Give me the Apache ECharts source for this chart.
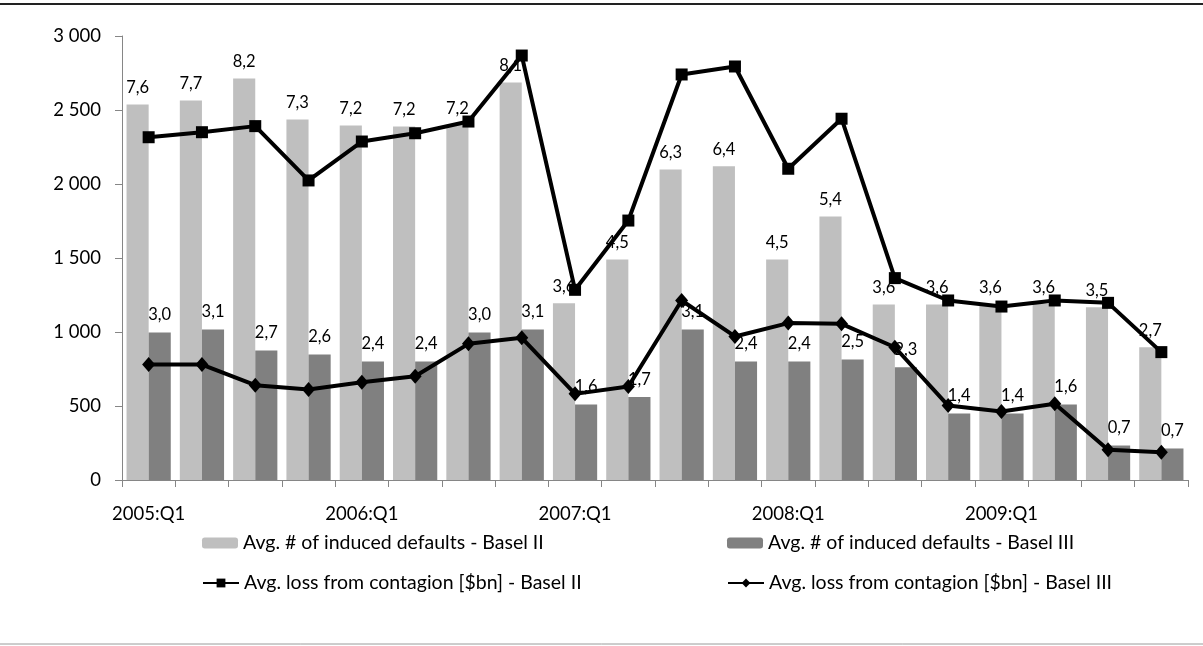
<!DOCTYPE html>
<html>
<head>
<meta charset="utf-8">
<script src="https://cdn.jsdelivr.net/npm/echarts@6/dist/echarts.min.js"></script>
<style>
html,body{margin:0;padding:0;background:#fff;}
#c{width:1203px;height:646px;}
</style>
</head>
<body>
<div id="c"></div>
<script>
const categories = ['2005:Q1','2005:Q2','2005:Q3','2005:Q4','2006:Q1','2006:Q2','2006:Q3','2006:Q4',
  '2007:Q1','2007:Q2','2007:Q3','2007:Q4','2008:Q1','2008:Q2','2008:Q3','2008:Q4',
  '2009:Q1','2009:Q2','2009:Q3','2009:Q4'];
const defaultsBasel2 = [2537,2564,2713,2436,2395,2389,2400,2686,1195,1490,2098,2120,1490,1780,1186,1186,1186,1190,1168,897];
const defaultsBasel3 = [997,1017,875,848,801,801,997,1017,510,560,1017,801,801,814,762,449,449,510,233,213];
const lossBasel2 = [2316,2350,2391,2024,2287,2343,2422,2868,1285,1753,2740,2794,2103,2441,1364,1213,1172,1213,1197,864];
const lossBasel3 = [780,780,641,611,661,701,920,961,582,632,1213,970,1060,1055,897,503,463,515,204,188];
const labelsBasel2 = ['7,6','7,7','8,2','7,3','7,2','7,2','7,2','8,1','3,6','4,5','6,3','6,4','4,5','5,4','3,6','3,6','3,6','3,6','3,5','2,7'];
const labelsBasel3 = ['3,0','3,1','2,7','2,6','2,4','2,4','3,0','3,1','1,6','1,7','3,1','2,4','2,4','2,5','2,3','1,4','1,4','1,6','0,7','0,7'];
const yTicks = {min: 0, max: 3000, interval: 500};

const names = [
  'Avg. # of induced defaults - Basel II',
  'Avg. # of induced defaults - Basel III',
  'Avg. loss from contagion [$bn] - Basel II',
  'Avg. loss from contagion [$bn] - Basel III'
];
const FONT = 'Lato';
const chart = echarts.init(document.getElementById('c'), null, {renderer: 'canvas'});
function legendAt(name, left, top) {
  return {
    data: [name], left: left, top: top, orient: 'horizontal',
    itemWidth: 36, itemHeight: 11, itemGap: 0, padding: 0,
    selectedMode: false,
    textStyle: {fontFamily: FONT, fontSize: 19.5, color: '#000'}
  };
}
chart.setOption({
  animation: false,
  backgroundColor: '#fff',
  textStyle: {fontFamily: FONT},
  grid: {left: 122, right: 15, top: 36, bottom: 166, containLabel: false},
  legend: [
    legendAt(names[0], 202, 533),
    legendAt(names[1], 727, 533),
    legendAt(names[2], 202, 573),
    legendAt(names[3], 727, 573)
  ],
  xAxis: {
    type: 'category', data: categories, boundaryGap: true,
    axisLine: {lineStyle: {color: '#868686', width: 1}},
    axisTick: {show: true, length: 7, inside: false, lineStyle: {color: '#868686'}, interval: 0},
    axisLabel: {interval: 3, color: '#000', fontFamily: FONT, fontSize: 18.5, margin: 25}
  },
  yAxis: {
    type: 'value', min: yTicks.min, max: yTicks.max, interval: yTicks.interval,
    axisLine: {show: true, lineStyle: {color: '#868686', width: 1}},
    axisTick: {show: true, length: 7, lineStyle: {color: '#868686'}},
    splitLine: {show: false},
    axisLabel: {color: '#000', fontFamily: FONT, fontSize: 18.5, margin: 21,
      formatter: v => String(v).replace(/\B(?=(\d{3})+(?!\d))/g, ' ')}
  },
  series: [
    {
      name: names[0], type: 'bar', data: defaultsBasel2, barGap: '0%', barCategoryGap: '17%',
      itemStyle: {color: '#BFBFBF'}, z: 2,
      label: {show: true, position: 'top', distance: 8, color: '#000', fontFamily: FONT, fontSize: 16.5,
        formatter: p => labelsBasel2[p.dataIndex]}
    },
    {
      name: names[1], type: 'bar', data: defaultsBasel3,
      itemStyle: {color: '#808080'}, z: 2,
      label: {show: true, position: 'top', distance: 9, color: '#000', fontFamily: FONT, fontSize: 16.5,
        formatter: p => labelsBasel3[p.dataIndex]}
    },
    {
      name: names[2], type: 'line', data: lossBasel2, z: 5,
      symbol: 'rect', symbolSize: 12,
      lineStyle: {color: '#000', width: 4},
      itemStyle: {color: '#000'}
    },
    {
      name: names[3], type: 'line', data: lossBasel3, z: 5,
      symbol: 'diamond', symbolSize: [13, 15],
      lineStyle: {color: '#000', width: 4},
      itemStyle: {color: '#000'}
    }
  ],
  graphic: [
    {type: 'line', shape: {x1: 0, y1: 4, x2: 1203, y2: 4}, style: {stroke: '#222', lineWidth: 2}},
    {type: 'line', shape: {x1: 0, y1: 644, x2: 1203, y2: 644}, style: {stroke: '#9a9a9a', lineWidth: 1}}
  ]
});
</script>
</body>
</html>
